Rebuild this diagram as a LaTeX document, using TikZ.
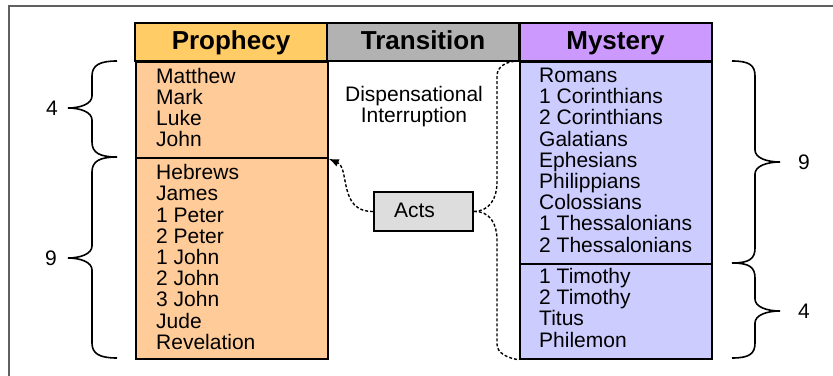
\documentclass[tikz,border=0pt]{standalone}
\usepackage{fontspec}
\setmainfont{Liberation Sans}
\usetikzlibrary{arrows.meta}
\definecolor{goldhdr}{HTML}{FFCC66}
\definecolor{peach}{HTML}{FFCC99}
\definecolor{grayhdr}{HTML}{B2B2B2}
\definecolor{violethdr}{HTML}{CC99FF}
\definecolor{lavender}{HTML}{CCCCFF}
\definecolor{actsfill}{HTML}{DDDDDD}
\definecolor{framegray}{HTML}{606060}
\tikzset{
  hdr/.style={draw=black, line width=2pt, minimum width=192pt, minimum height=38pt, inner sep=0pt,
    text height=19pt, text depth=4.4pt, font=\fontsize{26}{28}\selectfont\bfseries},
  body/.style={draw=black, line width=1.8pt, minimum width=192pt, inner sep=0pt, anchor=north west},
  listtxt/.style={anchor=north west, inner sep=0pt, align=left, font=\fontsize{21}{21.2}\selectfont},
  conn/.style={line width=1.4pt, dash pattern=on 3pt off 2pt},
  bracepath/.style={line width=1.6pt},
  numlbl/.style={inner sep=0pt, font=\fontsize{21}{22}\selectfont}
}
\newcommand\mybraceL[3]{%
  \draw[bracepath] (117,#1) .. controls (100,#1) and (92,{#1+4}) .. (92,{#1+15}) -- (92,{#2-12})
    .. controls (92,{#2-4}) and (80,#2) .. (68,#2)
    .. controls (80,#2) and (92,{#2+4}) .. (92,{#2+12}) -- (92,{#3-15})
    .. controls (92,{#3-4}) and (100,#3) .. (117,#3);}
\newcommand\mybraceR[3]{%
  \draw[bracepath] (732,#1) .. controls (749,#1) and (755,{#1+4}) .. (755,{#1+15}) -- (755,{#2-12})
    .. controls (755,{#2-4}) and (767,#2) .. (780,#2)
    .. controls (767,#2) and (755,{#2+4}) .. (755,{#2+12}) -- (755,{#3-15})
    .. controls (755,{#3-4}) and (749,#3) .. (732,#3);}
\begin{document}
\begin{tikzpicture}[x=1pt,y=-1pt]
\useasboundingbox (0,0) rectangle (833,375);
\draw[framegray, line width=1.4pt] (9,376) -- (9,6) -- (834,6);

% bodies
\node[body, fill=peach, minimum height=96pt] (pTop) at (135,61) {};
\node[body, fill=peach, minimum height=201pt] (pBot) at (135,157) {};
\node[body, fill=lavender, minimum height=202pt] (mTop) at (519,61) {};
\node[body, fill=lavender, minimum height=95pt] (mBot) at (519,263) {};

% headers
\node[hdr, fill=goldhdr] (hProph) at (231,42) {Prophecy};
\node[hdr, fill=grayhdr] (hTrans) at (423,42) {Transition};
\node[hdr, fill=violethdr] (hMyst) at (615.5,42) {Mystery};

% lists
\node[listtxt] (gospels) at (156,67.8) {Matthew\\Mark\\Luke\\John};
\node[listtxt] (hebrews) at (156,164.3) {Hebrews\\James\\1 Peter\\2 Peter\\1 John\\2 John\\3 John\\Jude\\Revelation};
\node[listtxt] (pauline) at (539,67.8) {Romans\\1 Corinthians\\2 Corinthians\\Galatians\\Ephesians\\Philippians\\Colossians\\1 Thessalonians\\2 Thessalonians};
\node[listtxt] (pastoral) at (539,268) {1 Timothy\\2 Timothy\\Titus\\Philemon};

\node[listtxt, anchor=north, align=center] (interrupt) at (414,85.8) {Dispensational\\Interruption};

% Acts
\node[draw=black, line width=1.8pt, fill=actsfill, minimum width=99pt, minimum height=39pt,
  inner xsep=0pt, inner ysep=0pt, text width=59pt, align=left, text height=15pt, text depth=3.4pt,
  font=\fontsize{21}{22}\selectfont] (acts) at (423.5,211.5) {Acts};

% connectors
\draw[conn, -{Latex[length=10pt,width=8pt]}] (acts.west) .. controls (338,212) and (350,168) .. (pTop.south east);
\draw[conn] (acts.east) .. controls (490,211) and (497,198) .. (497,182) -- (497,76)
  .. controls (497,66) and (507,61) .. (mTop.north west);
\draw[conn] (acts.east) .. controls (490,211) and (497,224) .. (497,240) -- (497,344)
  .. controls (497,353) and (507,358) .. (mBot.south west);

% braces
\mybraceL{61}{108}{157}
\mybraceL{157}{258}{358}
\mybraceR{61}{162}{263}
\mybraceR{263}{311}{358}
\node[numlbl] (lFour) at (52,108) {4};
\node[numlbl] (lNine) at (51,258) {9};
\node[numlbl] (rNine) at (804,162) {9};
\node[numlbl] (rFour) at (804,311) {4};
\end{tikzpicture}
\end{document}
